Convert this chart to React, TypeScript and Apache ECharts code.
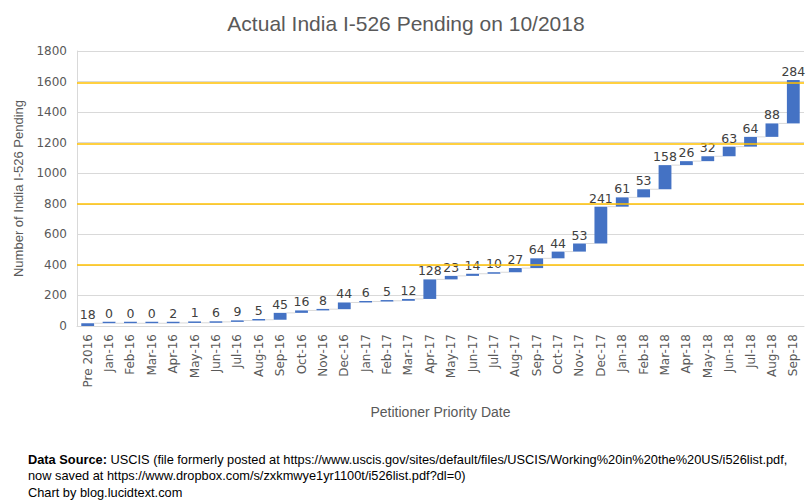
import React, { useEffect, useRef } from "react";
import * as echarts from "echarts";

const categories = [
  "Pre 2016", "Jan-16", "Feb-16", "Mar-16", "Apr-16", "May-16", "Jun-16", "Jul-16", "Aug-16", "Sep-16", "Oct-16", "Nov-16", "Dec-16",
  "Jan-17", "Feb-17", "Mar-17", "Apr-17", "May-17", "Jun-17", "Jul-17", "Aug-17", "Sep-17", "Oct-17", "Nov-17", "Dec-17",
  "Jan-18", "Feb-18", "Mar-18", "Apr-18", "May-18", "Jun-18", "Jul-18", "Aug-18", "Sep-18",
];
const increments = [
  18, 0, 0, 0, 2, 1, 6, 9, 5, 45, 16, 8, 44,
  6, 5, 12, 128, 23, 14, 10, 27, 64, 44, 53, 241,
  61, 53, 158, 26, 32, 63, 64, 88, 284,
];
const highlightLevels = [400, 800, 1190, 1595];
const yTicks = { min: 0, max: 1800, interval: 200 };

export default function App() {
  const ref = useRef<HTMLDivElement>(null);
  useEffect(() => {
    if (!ref.current) return;
    document.body.style.margin = "0";
    const chart = echarts.init(ref.current, null, { renderer: "svg" });
    const rows: number[][] = [];
    let run = 0;
    increments.forEach((v, i) => {
      const start = run;
      run += v;
      rows.push([i, start, run, v]);
    });
    const n = rows.length;
    const option: any = {
      animation: false,
      backgroundColor: "#ffffff",
      title: {
        text: "Actual India I-526 Pending on 10/2018",
        left: "center",
        top: 8,
        textStyle: { fontFamily: "Liberation Sans", fontSize: 21, fontWeight: "normal", color: "#595959" },
      },
      grid: { left: 77, right: 8, top: 51, bottom: 178, containLabel: false },
      xAxis: {
        type: "category",
        data: categories,
        name: "Petitioner Priority Date",
        nameLocation: "middle",
        nameGap: 79,
        nameTextStyle: { fontFamily: "Liberation Sans", fontSize: 14, color: "#595959" },
        axisLine: { lineStyle: { color: "#d9d9d9" } },
        axisTick: { show: false },
        axisLabel: { interval: 0, rotate: 90, fontFamily: "DejaVu Sans", fontSize: 12, color: "#595959", margin: 8 },
      },
      yAxis: {
        type: "value",
        min: yTicks.min,
        max: yTicks.max,
        interval: yTicks.interval,
        name: "Number of India I-526 Pending",
        nameLocation: "middle",
        nameGap: 52,
        nameTextStyle: { fontFamily: "Liberation Sans", fontSize: 13, color: "#595959" },
        axisLine: { show: true, lineStyle: { color: "#d9d9d9" } },
        axisTick: { show: false },
        axisLabel: {
          fontFamily: "DejaVu Sans",
          fontSize: 12,
          color: "#595959",
          margin: 10,
          formatter: (v: number) => String(v),
        },
        splitLine: { lineStyle: { color: "#d9d9d9" } },
      },
      series: [
        {
          type: "custom",
          data: rows,
          encode: { x: 0, y: [1, 2] },
          renderItem: (params: any, api: any) => {
            const i = api.value(0);
            const s = api.value(1);
            const e = api.value(2);
            const v = api.value(3);
            const p0 = api.coord([i, s]);
            const p1 = api.coord([i, e]);
            const bw = api.size([1, 0])[0] * 0.6;
            let h = p0[1] - p1[1];
            let top = p1[1];
            if (h < 1.5) {
              top = p0[1] - 1.5;
              h = 1.5;
            }
            const children: any[] = [
              {
                type: "rect",
                shape: { x: p1[0] - bw / 2, y: top, width: bw, height: h },
                style: { fill: "#4472c4" },
              },
              {
                type: "text",
                style: {
                  text: String(v),
                  x: p1[0],
                  y: top - 2,
                  align: "center",
                  verticalAlign: "bottom",
                  fontFamily: "DejaVu Sans",
                  fontSize: 12.5,
                  fill: "#404040",
                },
              },
            ];
            if (i < n - 1) {
              const q = api.coord([i + 1, e]);
              children.push({
                type: "line",
                shape: { x1: p1[0] + bw / 2, y1: p1[1], x2: q[0] - bw / 2, y2: q[1] },
                style: { stroke: "#d9d9d9", lineWidth: 1 },
              });
            }
            return { type: "group", children };
          },
          markLine: {
            silent: true,
            symbol: "none",
            label: { show: false },
            lineStyle: { color: "#ffc000", width: 1.5, type: "solid" },
            data: highlightLevels.map((y) => ({ yAxis: y })),
          },
        },
      ],
      graphic: [
        {
          type: "text",
          left: 28,
          top: 451,
          style: {
            text: "{b|Data Source:} USCIS (file formerly posted at https://www.uscis.gov/sites/default/files/USCIS/Working%20in%20the%20US/i526list.pdf,\nnow saved at https://www.dropbox.com/s/zxkmwye1yr1100t/i526list.pdf?dl=0)\nChart by blog.lucidtext.com",
            fontFamily: "Liberation Sans",
            fontSize: 12.8,
            lineHeight: 16.5,
            fill: "#000000",
            rich: {
              b: { fontFamily: "Liberation Sans", fontSize: 12.8, fontWeight: "bold", fill: "#000000" },
            },
          },
        },
      ],
    };
    chart.setOption(option);
    return () => chart.dispose();
  }, []);
  return <div ref={ref} style={{ width: 812, height: 504 }} />;
}
